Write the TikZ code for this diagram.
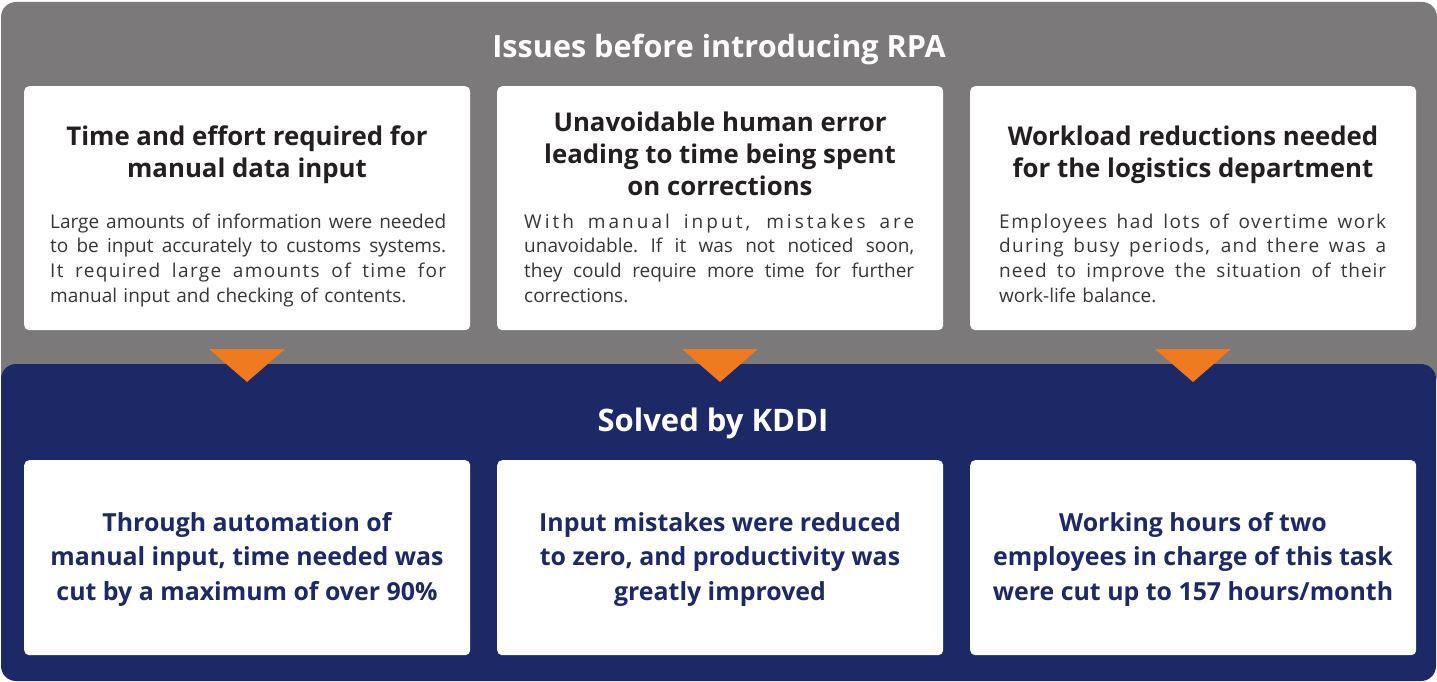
\documentclass[tikz,border=0pt]{standalone}
\usepackage{fontspec}
\setmainfont{Open Sans}
\definecolor{panelgray}{HTML}{7B797A}
\definecolor{panelnavy}{HTML}{1D2967}
\definecolor{arroworange}{HTML}{F07A1E}
\definecolor{headtext}{HTML}{231F20}
\newlength{\jw}
% justified line with optional letter spacing: \jl{letterspace}{text}
\newcommand{\jl}[2]{\makebox[\jw][s]{\addfontfeature{LetterSpace=#1}\spaceskip=0.26em plus 1fil\relax\xspaceskip=0.26em plus 1fil\relax #2}\\}
\begin{document}
\begin{tikzpicture}[x=1pt,y=-1pt,
  whitebox/.style={fill=white, rounded corners=5pt, minimum width=446pt, inner sep=0pt, anchor=north west},
  titletext/.style={text=white, font=\fontsize{30.6}{36}\selectfont\bfseries, inner sep=0pt, anchor=base},
  headtxt/.style={text=headtext, font=\fontsize{25.8}{32}\selectfont\bfseries, inner sep=0pt, align=center, anchor=north},
  bodytxt/.style={text=headtext!90, font=\fontsize{19}{24.6}\selectfont, inner sep=0pt, align=left, anchor=north west},
  resulttxt/.style={text=panelnavy, font=\fontsize{24.9}{34.7}\selectfont\bfseries, inner sep=0pt, align=center, anchor=north},
  tri/.style={fill=arroworange}
]
\useasboundingbox (0,0) rectangle (1437,682);
% panels
\fill[panelgray, rounded corners=15pt] (1,2) rectangle (1437,390);
\fill[panelnavy, rounded corners=15pt] (1,364) rectangle (1436,681);
% titles
\node[titletext] (ttop) at (719,58) {Issues before introducing RPA};
\node[font=\fontsize{31}{36}\selectfont\bfseries, text=white, inner sep=0pt, anchor=base] (tbot) at (713,431) {Solved by KDDI};
% white boxes
\node[whitebox, minimum height=244pt] (i1) at (24,86) {};
\node[whitebox, minimum height=244pt] (i2) at (497,86) {};
\node[whitebox, minimum height=244pt] (i3) at (970,86) {};
\node[whitebox, minimum height=195pt] (s1) at (24,460) {};
\node[whitebox, minimum height=195pt] (s2) at (497,460) {};
\node[whitebox, minimum height=195pt] (s3) at (970,460) {};
% triangles
\foreach \cx in {247,720,1193}{
  \fill[tri] (\cx-38,349) -- (\cx+38,349) -- (\cx,382) -- cycle;
}
% headings
\node[headtxt] (h1) at (247,121) {\rule{0pt}{24pt}Time and effort required for\\manual data input};
\node[headtxt] (h2) at (720,107) {\rule{0pt}{24pt}Unavoidable human error\\leading to time being spent\\on corrections};
\node[headtxt] (h3) at (1193,121) {\rule{0pt}{24pt}Workload reductions needed\\for the logistics department};
% body texts
\node[bodytxt, text width=396pt] (b1) at (50,208) {\setlength{\jw}{396pt}\rule{0pt}{20pt}\jl{0}{Large amounts of information were needed}\jl{0}{to be input accurately to customs systems.}\jl{7}{It required large amounts of time for}manual input and checking of contents.};
\node[bodytxt, text width=390pt] (b2) at (524,208) {\setlength{\jw}{390pt}\rule{0pt}{20pt}\jl{16}{With manual input, mistakes are}\jl{0}{unavoidable. If it was not noticed soon,}\jl{0}{they could require more time for further}corrections.};
\node[bodytxt, text width=387pt] (b3) at (999,208) {\setlength{\jw}{387pt}\rule{0pt}{20pt}\jl{8}{Employees had lots of overtime work}\jl{7}{during busy periods, and there was a}\jl{5}{need to improve the situation of their}work-life balance.};
% results
\node[resulttxt] (r1) at (247,505) {\rule{0pt}{26pt}Through automation of\\manual input, time needed was\\cut by a maximum of over 90\%};
\node[resulttxt] (r2) at (720,505) {\rule{0pt}{26pt}Input mistakes were reduced\\to zero, and productivity was\\greatly improved};
\node[resulttxt] (r3) at (1193,505) {\rule{0pt}{26pt}Working hours of two\\employees in charge of this task\\were cut up to 157 hours/month};
\end{tikzpicture}
\end{document}
